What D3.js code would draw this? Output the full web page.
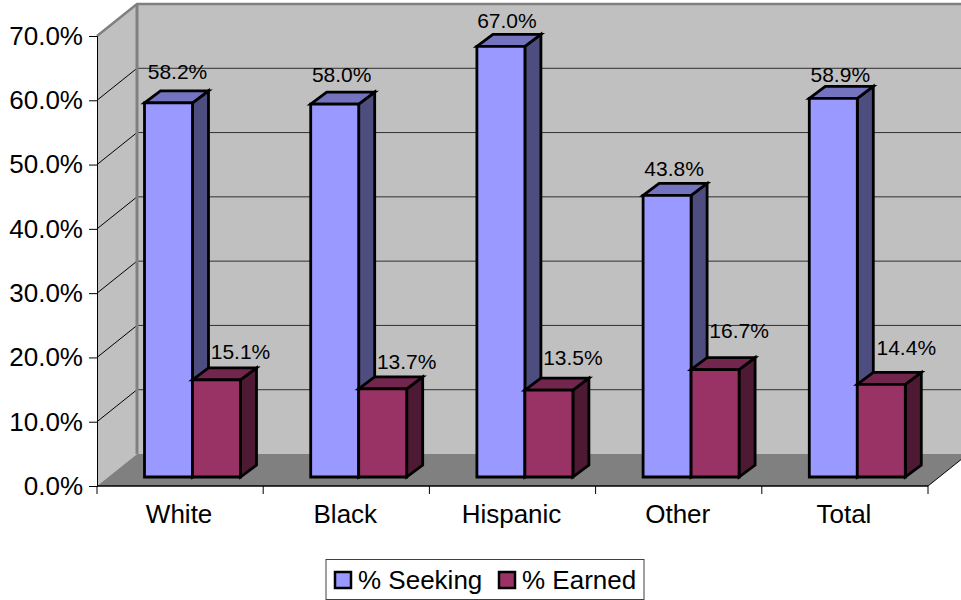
<!DOCTYPE html>
<html>
<head>
<meta charset="utf-8">
<script src="https://cdn.jsdelivr.net/npm/d3@7"></script>
<style>
  html, body { margin: 0; padding: 0; background: #fff; }
  svg { display: block; }
  text { font-family: "Liberation Sans", Arial, sans-serif; fill: #000; }
</style>
</head>
<body>
<div id="chart"></div>
<script>
// values
const categories = ["White", "Black", "Hispanic", "Other", "Total"];
const seeking = [58.2, 58.0, 67.0, 43.8, 58.9];
const earned = [15.1, 13.7, 13.5, 16.7, 14.4];
const yTicks = [0, 10, 20, 30, 40, 50, 60, 70];

// hand placed label offsets in the original chart [dx, dy from top of bar]
const seekingNudge = [[9, -24], [7, -22], [6, -18], [7, -19], [7, -16]];
const earnedNudge = [[24, -21], [24, -20], [24, -25], [24, -32], [25, -29]];

const width = 961, height = 600;
const x0 = 97, x1 = 928, y0 = 486, y1 = 36;
const wallDx = 40, wallDy = 32;      // depth of the whole box
const barDx = 16, barDy = 12;        // depth of one bar
const insetDx = 11.5, insetDy = 9;   // bars stand this far back on the floor
const barW = 48;

const svg = d3.select("#chart").append("svg")
    .attr("width", width)
    .attr("height", height);

const x = d3.scaleBand().domain(categories).range([x0, x1]);
const y = d3.scaleLinear().domain([0, 70]).range([y0, y1]);

const poly = pts => pts.map(p => p.join(",")).join(" ");

// walls and floor
svg.append("polygon")
    .attr("points", poly([[x0 + wallDx, y1 - wallDy], [width + 10, y1 - wallDy], [width + 10, y0 - wallDy], [x0 + wallDx, y0 - wallDy]]))
    .attr("fill", "#c0c0c0");
svg.append("polygon")
    .attr("points", poly([[x0, y1], [x0 + wallDx, y1 - wallDy], [x0 + wallDx, y0 - wallDy], [x0, y0]]))
    .attr("fill", "#c0c0c0");
svg.append("polygon")
    .attr("points", poly([[x0, y0], [x0 + wallDx, y0 - wallDy], [x1 + wallDx, y0 - wallDy], [x1, y0]]))
    .attr("fill", "#808080");

// grid lines, back wall then the diagonal on the side wall
let grid = svg.append("g");
grid.selectAll(".back").data(yTicks.slice(1, -1)).enter().append("line")
    .attr("class", "back")
    .attr("x1", x0 + wallDx).attr("x2", width)
    .attr("y1", d => y(d) - wallDy).attr("y2", d => y(d) - wallDy)
    .attr("stroke", "#303030").attr("stroke-width", 1);
grid.selectAll(".side").data(yTicks.slice(1, -1)).enter().append("line")
    .attr("class", "side")
    .attr("x1", x0).attr("x2", x0 + wallDx)
    .attr("y1", d => y(d)).attr("y2", d => y(d) - wallDy)
    .attr("stroke", "#000").attr("stroke-width", 1);

// frame of the walls
svg.append("polyline")
    .attr("points", poly([[x0, y1], [x0 + wallDx, y1 - wallDy], [width, y1 - wallDy]]))
    .attr("fill", "none").attr("stroke", "#808080").attr("stroke-width", 2.5);
svg.append("line")
    .attr("x1", x0 + wallDx).attr("x2", x0 + wallDx)
    .attr("y1", y1 - wallDy).attr("y2", y0 - wallDy)
    .attr("stroke", "#808080").attr("stroke-width", 3);
svg.append("line")
    .attr("x1", x1).attr("x2", x1 + wallDx)
    .attr("y1", y0).attr("y2", y0 - wallDy)
    .attr("stroke", "#000").attr("stroke-width", 1);

// axes
let yAxis = d3.axisLeft(y).tickValues(yTicks).tickSize(8).tickPadding(6)
    .tickFormat(d => d3.format(".1f")(d) + "%");
let xAxis = d3.axisBottom(x).tickSize(0).tickPadding(19);

let gy = svg.append("g").attr("transform", `translate(${x0},0)`).call(yAxis);
let gx = svg.append("g").attr("transform", `translate(0,${y0})`).call(xAxis);
gy.selectAll("text").style("font-size", "26px");
gx.selectAll("text").style("font-size", "26px").attr("dx", -1);
gy.selectAll("path,line").attr("stroke", "#000");
gx.selectAll("path,line").attr("stroke", "#000");
gx.select("path").attr("d", `M${x0},0H${x1}`).attr("stroke-width", 1.5);

// category separators below the axis
gx.selectAll(".sep").data(d3.range(0, 6)).enter().append("line")
    .attr("class", "sep")
    .attr("x1", i => x0 + i * x.step()).attr("x2", i => x0 + i * x.step())
    .attr("y1", 0).attr("y2", 8)
    .attr("stroke", "#000");

// one 3d bar, faces are drawn side, top, front
function drawBar(g, left, value, front, top, side) {
    let bx0 = left, bx1 = left + barW;
    let base = y(0) - insetDy, t = y(value) - insetDy;
    g.append("polygon")
        .attr("points", poly([[bx1, t], [bx1 + barDx, t - barDy], [bx1 + barDx, base - barDy], [bx1, base]]))
        .attr("fill", side);
    g.append("polygon")
        .attr("points", poly([[bx0, t], [bx0 + barDx, t - barDy], [bx1 + barDx, t - barDy], [bx1, t]]))
        .attr("fill", top);
    g.append("polygon")
        .attr("points", poly([[bx0, t], [bx1, t], [bx1, base], [bx0, base]]))
        .attr("fill", front);
    g.selectAll("polygon")
        .attr("stroke", "#000").attr("stroke-width", 2.8).attr("stroke-linejoin", "miter");
}

let bars = svg.append("g");
categories.forEach((c, i) => {
    let left = x(c) + insetDx + 36;
    drawBar(bars.append("g"), left, seeking[i], "#9999ff", "#7373bf", "#4d4d80");
    drawBar(bars.append("g"), left + barW, earned[i], "#993366", "#73264d", "#4d1933");
});

// data labels
let labels = svg.append("g").style("font-size", "21px").attr("text-anchor", "middle");
categories.forEach((c, i) => {
    let left = x(c) + insetDx + 36;
    labels.append("text")
        .attr("x", left + barW / 2 + seekingNudge[i][0])
        .attr("y", y(seeking[i]) - insetDy + seekingNudge[i][1])
        .text(seeking[i].toFixed(1) + "%");
    labels.append("text")
        .attr("x", left + barW * 1.5 + earnedNudge[i][0])
        .attr("y", y(earned[i]) - insetDy + earnedNudge[i][1])
        .text(earned[i].toFixed(1) + "%");
});

// legend
let legend = svg.append("g");
legend.append("rect")
    .attr("x", 326).attr("y", 559.5).attr("width", 318).attr("height", 40)
    .attr("fill", "#fff").attr("stroke", "#404040").attr("stroke-width", 1);
let legendItems = [["% Seeking", "#9999ff", 335, 358], ["% Earned", "#993366", 499, 522]];
legendItems.forEach(d => {
    legend.append("rect")
        .attr("x", d[2]).attr("y", 572).attr("width", 16).attr("height", 16)
        .attr("fill", d[1]).attr("stroke", "#000").attr("stroke-width", 2.5);
    legend.append("text")
        .attr("x", d[3]).attr("y", 589)
        .style("font-size", "26px")
        .text(d[0]);
});
</script>
</body>
</html>
